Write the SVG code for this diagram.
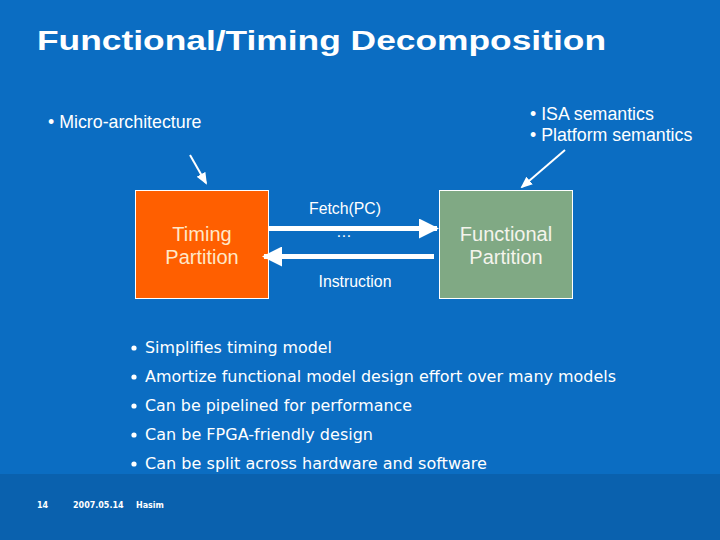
<svg xmlns="http://www.w3.org/2000/svg" width="720" height="540" viewBox="0 0 720 540">
<style>
.t{font-family:"Liberation Sans",Arial,sans-serif;fill:#fff}
.b{font-family:"DejaVu Sans",Verdana,sans-serif;fill:#fff;font-size:15px}
.f{font-family:"DejaVu Sans",Verdana,sans-serif;fill:#fff;font-size:8px;font-weight:bold}
.arr{stroke:#fff;fill:none}
</style>
<defs>
<marker id="ah" markerWidth="4" markerHeight="4" refX="3.6" refY="2" orient="auto" markerUnits="strokeWidth"><path d="M0,0 L4,2 L0,4 Z" fill="#fff"/></marker>
<marker id="sh" markerWidth="6" markerHeight="6" refX="5" refY="3" orient="auto" markerUnits="strokeWidth"><path d="M0,0.5 L6,3 L0,5.5 Z" fill="#fff"/></marker>
</defs>
<rect x="0" y="0" width="720" height="540" fill="#0B6DC2"/>
<rect x="0" y="474" width="720" height="66" fill="#0A61AE"/>
<text x="37" y="50" class="t" font-size="28" font-weight="bold" textLength="569" lengthAdjust="spacingAndGlyphs">Functional/Timing Decomposition</text>
<text x="48" y="128" class="t" font-size="17.8">• Micro-architecture</text>
<text x="530" y="120" class="t" font-size="17.8">• ISA semantics</text>
<text x="530" y="141" class="t" font-size="17.8">• Platform semantics</text>
<g id="timing">
<rect x="135.5" y="190.5" width="133" height="108" fill="#FF5F00" stroke="#fff" stroke-width="1"/>
<text x="202" y="241" class="t" font-size="20" text-anchor="middle" style="fill:#FFE8C8">Timing</text>
<text x="202" y="264" class="t" font-size="20" text-anchor="middle" style="fill:#FFE8C8">Partition</text>
</g>
<g id="functional">
<rect x="439.5" y="190.5" width="133" height="108" fill="#80A984" stroke="#fff" stroke-width="1"/>
<text x="506" y="241" class="t" font-size="20" text-anchor="middle" style="fill:#F4F4EC">Functional</text>
<text x="506" y="264" class="t" font-size="20" text-anchor="middle" style="fill:#F4F4EC">Partition</text>
</g>
<g id="connectors">
<line x1="268" y1="228.5" x2="437" y2="228.5" class="arr" stroke-width="5" marker-end="url(#ah)"/>
<line x1="434" y1="256.5" x2="264" y2="256.5" class="arr" stroke-width="5" marker-end="url(#ah)"/>
<line x1="190" y1="155" x2="206" y2="183" class="arr" stroke-width="2" marker-end="url(#sh)"/>
<line x1="565" y1="150" x2="522" y2="187" class="arr" stroke-width="2" marker-end="url(#sh)"/>
<text x="345" y="214" class="t" font-size="15.8" text-anchor="middle">Fetch(PC)</text>
<text x="345" y="237" class="t" font-size="15.8" text-anchor="middle" letter-spacing="2">…</text>
<text x="355" y="287" class="t" font-size="15.8" text-anchor="middle">Instruction</text>
</g>
<g id="bullets">
<circle cx="134" cy="348" r="2.6" fill="#fff"/>
<text x="145" y="353" class="b" textLength="187" lengthAdjust="spacingAndGlyphs">Simplifies timing model</text>
<circle cx="134" cy="377" r="2.6" fill="#fff"/>
<text x="145" y="382" class="b" textLength="471" lengthAdjust="spacingAndGlyphs">Amortize functional model design effort over many models</text>
<circle cx="134" cy="406" r="2.6" fill="#fff"/>
<text x="145" y="411" class="b" textLength="267" lengthAdjust="spacingAndGlyphs">Can be pipelined for performance</text>
<circle cx="134" cy="435" r="2.6" fill="#fff"/>
<text x="145" y="440" class="b" textLength="228" lengthAdjust="spacingAndGlyphs">Can be FPGA-friendly design</text>
<circle cx="134" cy="464" r="2.6" fill="#fff"/>
<text x="145" y="469" class="b" textLength="342" lengthAdjust="spacingAndGlyphs">Can be split across hardware and software</text>
</g>
<text x="37" y="508" class="f">14</text>
<text x="73" y="508" class="f">2007.05.14</text>
<text x="136" y="508" class="f">Hasim</text>
</svg>
